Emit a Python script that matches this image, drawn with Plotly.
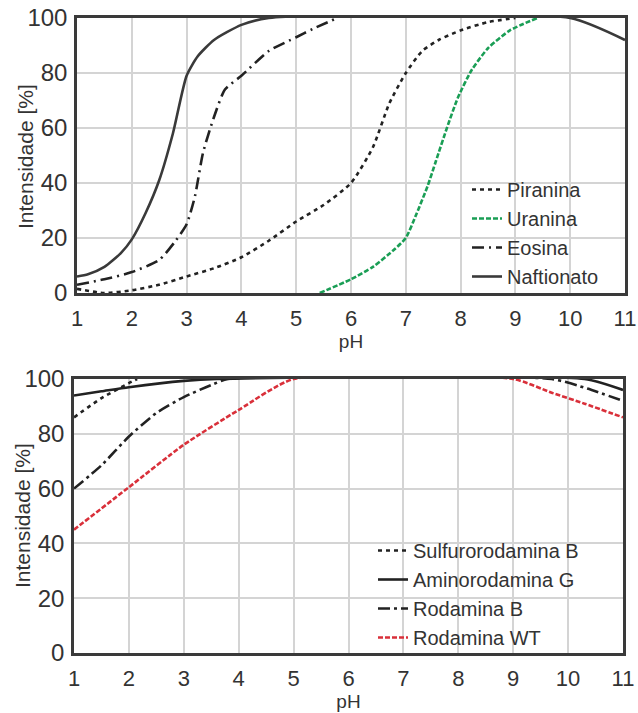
import plotly.graph_objects as go

# ---- data (top panel) ----
pir_x = [1, 1.5, 2, 2.5, 3, 3.5, 4, 4.5, 5, 5.5, 6, 6.4, 6.7, 7, 7.3, 7.6, 8, 8.5, 9]
pir_y = [1.5, 0, 1, 3, 6, 9, 13, 19, 26, 32, 40, 53, 69, 80, 88, 92, 95.5, 98.5, 100]
ura_x = [5.43, 6, 6.4, 6.8, 7, 7.2, 7.4, 7.55, 7.75, 7.95, 8.2, 8.5, 8.9, 9.4]
ura_y = [0, 5, 9.5, 16, 20, 29, 39, 48, 60, 71, 81, 89, 95.5, 100]
eos_x = [1, 1.5, 2, 2.5, 2.8, 3, 3.15, 3.3, 3.5, 3.7, 4, 4.5, 5, 5.3, 5.75]
eos_y = [3, 5, 7.6, 12, 19, 25, 35, 51, 64, 74, 79, 88, 93, 96, 100]
naf_x = [1, 1.2, 1.5, 1.8, 2, 2.25, 2.5, 2.75, 3, 3.2, 3.5, 4, 4.5, 10, 11]
naf_y = [6, 6.8, 9.5, 14.5, 19.5, 29, 41, 58, 79, 86, 92, 97.5, 100, 100, 92]

# ---- data (bottom panel) ----
sul_x = [1, 1.5, 2, 2.15]
sul_y = [86, 93, 98.5, 100]
ami_x = [1, 1.5, 2, 3, 3.6, 10.3, 11]
ami_y = [94, 95.5, 97, 99.3, 100, 100, 96]
rob_x = [1, 1.5, 2, 2.5, 3, 3.5, 3.8, 9.7, 10.35, 11]
rob_y = [60, 68.5, 79, 87.6, 93.4, 97.8, 100, 100, 96.5, 92]
rwt_x = [1, 2, 3, 4, 5, 9, 9.7, 10.3, 11]
rwt_y = [45, 60.5, 76, 88.7, 100, 100, 95, 91, 86]

ph_ticks = list(range(1, 12))
int_ticks = [0, 20, 40, 60, 80, 100]
y_title = "Intensidade [%]"
x_title = "pH"

DARK = "#3a3a3a"
GREEN = "#1a9e55"
RED = "#d9303a"
TXT = "#333333"
FONT = "Liberation Sans"

fig = go.Figure()

def add(x, y, name, color, dash, xa, ya, legend):
    fig.add_trace(go.Scatter(
        x=x, y=y, name=name, mode="lines",
        line=dict(color=color, width=2.6, dash=dash, shape="spline", smoothing=0.6),
        xaxis=xa, yaxis=ya, legend=legend, hoverinfo="skip"))

add(pir_x, pir_y, "Piranina", "#222222", "4px,4px", "x", "y", "legend")
add(ura_x, ura_y, "Uranina", GREEN, "5px,2px", "x", "y", "legend")
add(eos_x, eos_y, "Eosina", "#222222", "12px,5px,2px,5px", "x", "y", "legend")
add(naf_x, naf_y, "Naftionato", DARK, "solid", "x", "y", "legend")

add(sul_x, sul_y, "Sulfurorodamina B", "#222222", "4px,4px", "x2", "y2", "legend2")
add(ami_x, ami_y, "Aminorodamina G", "#222222", "solid", "x2", "y2", "legend2")
add(rob_x, rob_y, "Rodamina B", "#222222", "12px,4px,3px,4px", "x2", "y2", "legend2")
add(rwt_x, rwt_y, "Rodamina WT", RED, "5px,2px", "x2", "y2", "legend2")

W, H = 638, 713

def xdom(l, r):
    return [l / W, r / W]

def ydom(top, bot):
    return [1 - bot / H, 1 - top / H]

def px(x):
    return x / W

def py(y):
    return 1 - y / H

xcommon = dict(range=[1, 11], tickvals=ph_ticks, showgrid=True, gridcolor="#d4d4d4",
               gridwidth=1.5, showline=True, linecolor=DARK, linewidth=2.5, mirror=True,
               ticks="", tickfont=dict(size=22, color=TXT, family=FONT),
               ticklabelstandoff=4, zeroline=False, automargin=False,
               title=dict(text=x_title, font=dict(size=19, color=TXT, family=FONT), standoff=0))
ycommon = dict(range=[0, 100], tickvals=int_ticks, showgrid=True, gridcolor="#d4d4d4",
               gridwidth=1.5, showline=True, linecolor=DARK, linewidth=2.5, mirror=True,
               ticks="", tickfont=dict(size=24, color=TXT, family=FONT),
               ticklabelstandoff=2, zeroline=False, automargin=False)

fig.update_layout(
    width=W, height=H,
    margin=dict(l=0, r=0, t=0, b=0, autoexpand=False),
    paper_bgcolor="white", plot_bgcolor="white",
    font=dict(family=FONT, color=TXT),
    showlegend=True,
    xaxis=dict(xcommon, domain=xdom(77, 625), anchor="y"),
    yaxis=dict(ycommon, domain=ydom(18, 293), anchor="x"),
    xaxis2=dict(xcommon, domain=xdom(74, 623), anchor="y2"),
    yaxis2=dict(ycommon, domain=ydom(379, 653), anchor="x2"),
    legend=dict(x=px(467), y=py(296), xanchor="left", yanchor="bottom",
                bgcolor="rgba(0,0,0,0)", font=dict(size=20, color=TXT, family=FONT),
                tracegroupgap=0, itemwidth=30),
    legend2=dict(x=px(373), y=py(657), xanchor="left", yanchor="bottom",
                 bgcolor="rgba(0,0,0,0)", font=dict(size=20, color=TXT, family=FONT),
                 tracegroupgap=0, itemwidth=30),
    annotations=[
        dict(text=y_title, textangle=-90, xref="paper", yref="paper",
             x=px(25), y=py(157), xanchor="center", yanchor="middle", showarrow=False,
             font=dict(size=21, color=TXT, family=FONT)),
        dict(text=y_title, textangle=-90, xref="paper", yref="paper",
             x=px(22), y=py(516), xanchor="center", yanchor="middle", showarrow=False,
             font=dict(size=21, color=TXT, family=FONT)),
    ],
)

fig.write_html("out.html", config={"displayModeBar": False},
               post_script="document.body.style.margin='0';document.body.style.overflow='hidden';")
